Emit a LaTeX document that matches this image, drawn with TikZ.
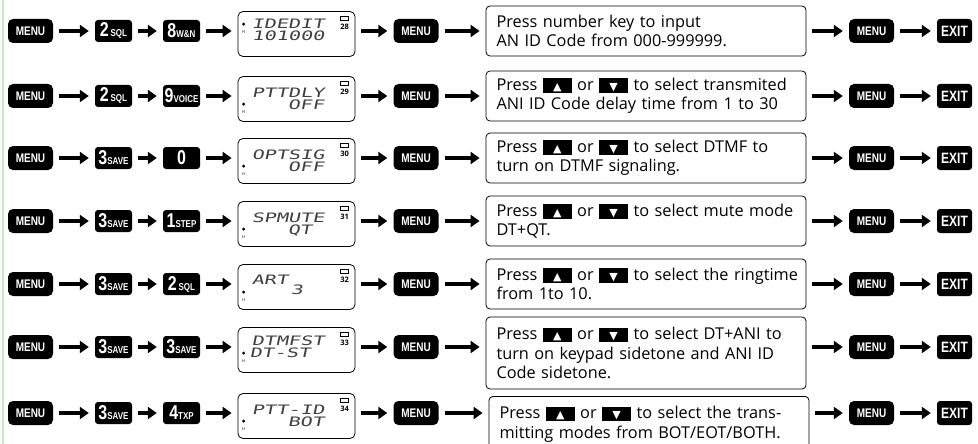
\documentclass[tikz,border=0pt]{standalone}
\usepackage{fontspec}
\usepackage{graphicx}
\usetikzlibrary{positioning,arrows.meta,calc}
\setmainfont{Open Sans}
\newfontfamily\keyfont[FakeStretch=0.8]{Liberation Sans}
\newfontfamily\lcdfont[FakeStretch=1.55,FakeSlant=0.2]{DejaVu Sans Mono}
\newfontfamily\trifont{DejaVu Sans}
\definecolor{rulegreen}{RGB}{200,232,200}
\hyphenpenalty=10000

\newcommand{\numkey}[2]{{\fontsize{20}{20}\selectfont #1}{\fontsize{10}{10}\selectfont #2}}
\newcommand{\padkey}[1]{\raisebox{-2.5pt}{\setlength{\fboxsep}{0pt}\colorbox{black}{\makebox[29pt]{\rule{0pt}{14.5pt}\raisebox{2.5pt}{\textcolor{white}{\trifont\fontsize{11}{11}\selectfont #1}}}}}}
\newcommand{\upk}{\padkey{▲}}
\newcommand{\dnk}{\padkey{▼}}

\tikzset{
  menukey/.style={fill=black, rounded corners=5pt, minimum width=45pt, minimum height=24pt, inner sep=0pt, text=white, font=\keyfont\bfseries\fontsize{12.5}{12.5}\selectfont},
  numkey/.style={fill=black, rounded corners=3pt, minimum width=37pt, minimum height=22pt, inner sep=0pt, text=white, font=\keyfont\bfseries},
  exitkey/.style={menukey, minimum width=35pt, rounded corners=3pt, font=\keyfont\bfseries\fontsize{15}{15}\selectfont},
  lcdbox/.style={draw, rounded corners=5pt, minimum width=117pt, minimum height=45pt, line width=0.8pt},
  lcdtxt/.style={font=\lcdfont\fontsize{13}{13}\selectfont, text=black!75, inner sep=0pt, anchor=base west},
  lcdtiny/.style={font=\bfseries\fontsize{7.5}{7.5}\selectfont, inner sep=0pt},
  infobox/.style={draw, rounded corners=4pt, line width=0.8pt, minimum width=320pt, minimum height=50pt, text width=313pt, align=left, inner xsep=3.5pt, execute at begin node={\leftskip=7pt}, font=\fontsize{16.3}{19.5}\selectfont},
  go/.style={-{Triangle[length=9pt,width=12pt]}, line width=4pt, shorten <=6pt, shorten >=6pt},
}

\begin{document}
\begin{tikzpicture}[x=1pt, y=-1pt]
 \useasboundingbox (0,0) rectangle (978,444);
 \draw[rulegreen, line width=1.5pt] (3,0) -- (3,444);

 %rows
 \foreach \r/\y/\ka/\kb/\la/\lay/\lb/\lbx/\lby/\mk/\num in {
   1/31/{\numkey{2}{\,SQL}}/{\numkey{8}{W\&N}}/IDEDIT/17/101000/14/29/13/28,
   2/96/{\numkey{2}{\,SQL}}/{\numkey{9}{VOICE}}/PTTDLY/21/OFF/50/33/28/29,
   3/158/{\numkey{3}{SAVE}}/{\numkey{0}{}}/OPTSIG/21/OFF/50/33/28/30,
   4/221/{\numkey{3}{SAVE}}/{\numkey{1}{STEP}}/SPMUTE/21/QT/50/33/28/31,
   5/284/{\numkey{3}{SAVE}}/{\numkey{2}{\,SQL}}/ART/20/3/53/30/28/32,
   6/347/{\numkey{3}{SAVE}}/{\numkey{3}{SAVE}}/DTMFST/18/DT-ST/12/30/26/33,
   7/413/{\numkey{3}{SAVE}}/{\numkey{4}{TXP}}/PTT-ID/21/BOT/50/33/28/34} {
   \node[menukey] (m1\r) at (30.5,\y) {MENU};
   \node[numkey] (ka\r) at (113.5,\y) {\ka};
   \node[numkey] (kb\r) at (181.5,\y) {\kb};
   \node[lcdbox] (lcd\r) at (296.5,\y+3) {};
   \node[menukey] (m2\r) at (416,\y) {MENU};
   \node[menukey] (m3\r) at (871.5,\y) {MENU};
   \node[exitkey] (ex\r) at (954.5,\y) {EXIT};

   %lcd
   \begin{scope}[shift={(lcd\r.north west)}]
     \node[lcdtxt] (la\r) at (14,\lay) {\la};
     \node[lcdtxt] (lb\r) at (\lbx,\lby) {\lb};
     \node[fill=black, circle, inner sep=1.2pt] (dot\r) at (6,\mk) {};
     \node[lcdtiny, font=\fontsize{4}{4}\selectfont] (h\r) at (6,\mk+8) {H};
     \draw[line width=0.6pt] (103,5) rectangle (111,9);
     \node[lcdtiny] (n\r) at (107,16) {\num};
   \end{scope}

   %lines
   \draw[go] (m1\r) -- (ka\r);
   \draw[go] (ka\r) -- (kb\r);
   \draw[go] (kb\r) -- (m2\r -| lcd\r.west);
   \draw[go] (m2\r -| lcd\r.east) -- (m2\r);
   \draw[go] (m3\r) -- (ex\r);
 }

 %text boxes
 \node[infobox] (info1) at (646,31) {Press number key to input\\AN ID Code from 000-999999.};
 \node[infobox] (info2) at (646,96) {Press \upk{} or \dnk{} to select transmited\\ANI ID Code delay time from 1 to 30};
 \node[infobox] (info3) at (646,158) {Press \upk{} or \dnk{} to select DTMF to\\turn on DTMF signaling.};
 \node[infobox] (info4) at (646,221) {Press \upk{} or \dnk{} to select mute mode\\DT+QT.};
 \node[infobox] (info5) at (646,284) {Press \upk{} or \dnk{} to select the ringtime\\from 1to 10.};
 \node[infobox, minimum height=72pt] (info6) at (646,353) {Press \upk{} or \dnk{} to select DT+ANI to\\turn on keypad sidetone and ANI ID\\Code sidetone.};
 \node[infobox, minimum height=56pt, anchor=north] (info7) at (649,396) {Press \upk{} or \dnk{} to select the trans-\\mitting modes from BOT/EOT/BOTH.};

 \foreach \r in {1,...,7} {
   \draw[go] (m2\r) -- (m2\r -| info\r.west);
   \draw[go] (m3\r -| info\r.east) -- (m3\r);
 }
\end{tikzpicture}
\end{document}
